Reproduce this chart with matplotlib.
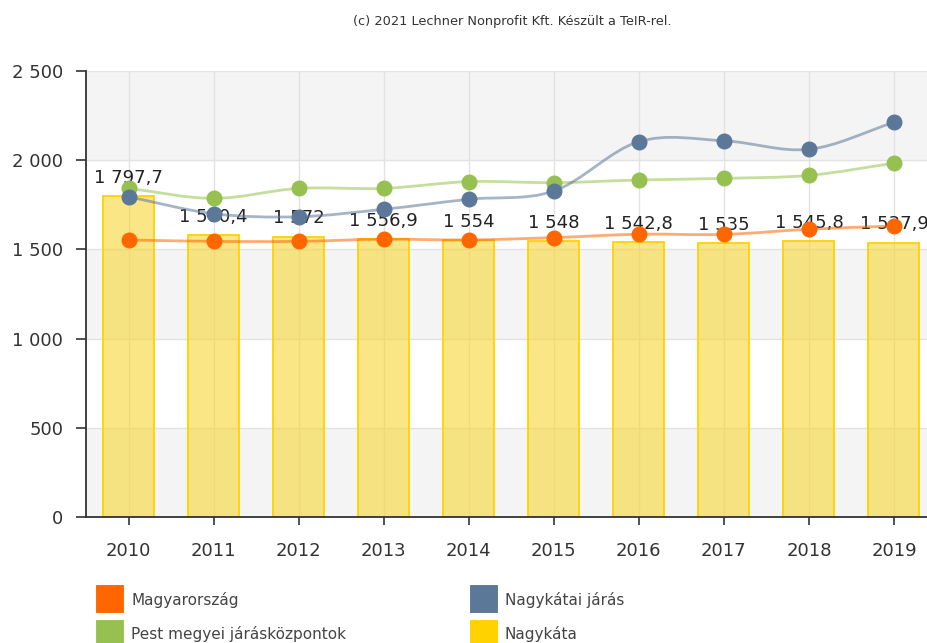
import matplotlib
matplotlib.use("Agg")
import matplotlib.pyplot as plt
from matplotlib.path import Path
from matplotlib.patches import PathPatch, Rectangle
from matplotlib.ticker import FuncFormatter

years = ["2010", "2011", "2012", "2013", "2014", "2015", "2016", "2017", "2018", "2019"]
nagykata = [1797.7, 1580.4, 1572, 1556.9, 1554, 1548, 1542.8, 1535, 1545.8, 1537.9]
magyarorszag = [1553, 1545, 1545, 1557, 1553, 1566, 1585, 1584, 1613, 1631]
nagykatai_jaras = [1795, 1700, 1683, 1725, 1781, 1827, 2104, 2109, 2061, 2212]
pest_jarasközpontok = [1842, 1786, 1842, 1842, 1880, 1874, 1889, 1898, 1915, 1983]

ORANGE = "#FF6600"
BLUE = "#5B7899"
GREEN = "#96C150"
YELLOW = "#FFD200"
TXT = "#333333"


def hu(v):
    s = f"{v:,.1f}".replace(",", " ").replace(".", ",")
    if s.endswith(",0"):
        s = s[:-2]
    return s


def smooth(xs, ys):
    n = len(xs)
    m = []
    for i in range(n):
        if i == 0:
            m.append((ys[1] - ys[0]) / (xs[1] - xs[0]))
        elif i == n - 1:
            m.append((ys[-1] - ys[-2]) / (xs[-1] - xs[-2]))
        else:
            m.append((ys[i + 1] - ys[i - 1]) / (xs[i + 1] - xs[i - 1]))
    verts = [(xs[0], ys[0])]
    codes = [Path.MOVETO]
    for i in range(n - 1):
        dx = (xs[i + 1] - xs[i]) / 3.0
        verts += [(xs[i] + dx, ys[i] + m[i] * dx),
                  (xs[i + 1] - dx, ys[i + 1] - m[i + 1] * dx),
                  (xs[i + 1], ys[i + 1])]
        codes += [Path.CURVE4] * 3
    return Path(verts, codes)


fig = plt.figure(figsize=(9.28, 6.43), dpi=100)
ax = fig.add_axes([86 / 928, 1 - 517 / 643, 850.5 / 928, 446 / 643])

x = list(range(len(years)))

for lo in (0, 1000, 2000):
    ax.axhspan(lo, lo + 500, color="#F4F4F4", zorder=0, lw=0)

ax.bar(x, nagykata, width=0.6, facecolor=(0.97, 0.84, 0.20, 0.6),
       edgecolor=YELLOW, lw=1.3, zorder=2)

for xi, v in zip(x, nagykata):
    ax.annotate(hu(v), (xi, v), xytext=(0, 9.5), textcoords="offset points",
                ha="center", va="baseline", fontsize=13, color="#222222", zorder=3)

for ys, c in ((magyarorszag, ORANGE), (pest_jarasközpontok, GREEN), (nagykatai_jaras, BLUE)):
    ax.add_patch(PathPatch(smooth(x, ys), fill=False, edgecolor=c, alpha=0.55,
                           lw=2.0, zorder=4, capstyle="round"))
    ax.plot(x, ys, "o", ms=10.5, color=c, mec=c, zorder=5)

ax.set_xlim(-0.5, 9.5)
ax.set_ylim(0, 2500)
ax.set_yticks([0, 500, 1000, 1500, 2000, 2500])
ax.yaxis.set_major_formatter(FuncFormatter(lambda v, p: hu(v)))
ax.set_xticks(x)
ax.set_xticklabels(years)

ax.grid(True, color="#E2E2E2", lw=1, zorder=1)
ax.set_axisbelow(True)
for s in ("top", "right"):
    ax.spines[s].set_visible(False)
for s in ("left", "bottom"):
    ax.spines[s].set_color("#333333")
    ax.spines[s].set_linewidth(1.3)

ax.tick_params(axis="y", length=7, width=1.2, color="#333333", pad=9.5,
               labelsize=13, labelcolor=TXT)
ax.tick_params(axis="x", length=6, width=1.2, color="#333333", pad=12,
               labelsize=13, labelcolor=TXT)

fig.text(512 / 928, 1 - 22 / 643, "(c) 2021 Lechner Nonprofit Kft. Készült a TeIR-rel.",
         ha="center", va="center", fontsize=9.3, color=TXT)

legend = [("Magyarország", ORANGE, 95.5, 584), ("Nagykátai járás", BLUE, 469, 584),
          ("Pest megyei járásközpontok", GREEN, 95.5, 618.5), ("Nagykáta", YELLOW, 469, 618.5)]
for label, c, lx, ly in legend:
    fig.patches.append(Rectangle((lx / 928, 1 - (ly + 29) / 643), 29 / 928, 29 / 643,
                                 transform=fig.transFigure, facecolor=c,
                                 edgecolor="white", lw=0.8))
    fig.text((lx + 36) / 928, 1 - (ly + 16) / 643, label, ha="left", va="center",
             fontsize=11, color="#444444")

fig.savefig("out.png", dpi=100)
